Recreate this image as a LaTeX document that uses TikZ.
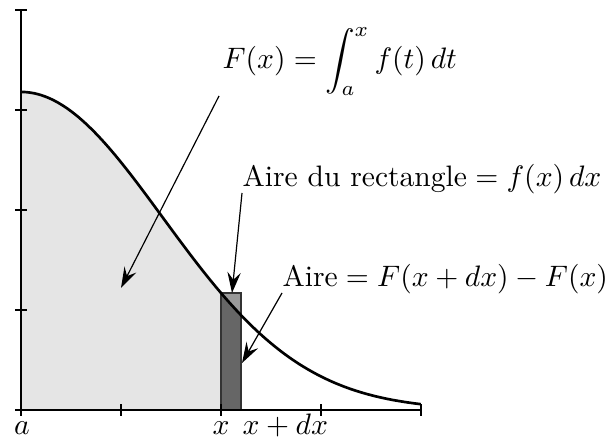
\documentclass[tikz,border=0pt]{standalone}
\usepackage{amsmath}
\usetikzlibrary{arrows.meta}
\begin{document}
\begin{tikzpicture}[x=33.8pt,y=33.8pt,
  declare function={f(\t)=3.18*exp(-(\t)^2/4);},
  axisline/.style={line width=0.5pt},
  tickmark/.style={line width=1pt},
  curveline/.style={line width=0.9pt},
  lightarea/.style={fill=black!10},
  rectfill/.style={fill=black!40},
  darkarea/.style={fill=black!60},
  rectline/.style={line width=0.4pt,draw=black!80},
  lbl/.style={inner sep=0pt},
  pointer/.style={line width=0.4pt,-{Stealth[length=7pt,width=4.5pt,inset=2.5pt]}}]
\useasboundingbox (-0.21,-0.30) rectangle (5.94,4.10);
% areas
\fill[lightarea] (0,0) -- plot[domain=0:2,samples=60] (\x,{f(\x)}) -- (2,0) -- cycle;
\fill[rectfill] (2,0) rectangle (2.2,{f(2)});
\fill[darkarea] (2,0) -- plot[domain=2:2.2,samples=10] (\x,{f(\x)}) -- (2.2,0) -- cycle;
\draw[rectline] (2,0) rectangle (2.2,{f(2)});
% axes
\coordinate (O) at (0,0);
\coordinate (xend) at (4,0);
\coordinate (yend) at (0,4);
\draw[axisline] (O) -- (xend);
\draw[axisline] (O) -- (yend);
\foreach \i in {0,...,4} {
  \draw[tickmark] (\i,-0.06) -- (\i,0.06);
  \draw[tickmark] (-0.06,\i) -- (0.06,\i);
}
% curve
\draw[curveline] plot[domain=0:4,samples=120] (\x,{f(\x)});
% axis labels
\node[lbl,anchor=base] (la) at (0.01,-0.25) {$a$};
\node[lbl,anchor=base] (lx) at (2.0,-0.25) {$x$};
\node[lbl,anchor=base west] (lxdx) at (2.21,-0.25) {$x+dx$};
% annotations
\node[lbl,anchor=base west] (Fdef) at (2.01,3.41) {$F(x) = \displaystyle\int_a^x f(t)\,dt$};
\node[lbl,anchor=base west] (rect) at (2.21,2.23) {$\text{Aire du rectangle} = f(x)\,dx$};
\node[lbl,anchor=base west] (aire) at (2.61,1.23) {$\text{Aire} = F(x+dx)-F(x)$};
% arrow ends
\coordinate (s1) at (1.98,3.14);
\coordinate (t1) at (1.0,1.22);
\coordinate (s2) at (2.21,2.17);
\coordinate (t2) at (2.11,1.17);
\coordinate (s3) at (2.61,1.17);
\coordinate (t3) at (2.21,0.47);
\draw[pointer] (s1) -- (t1);
\draw[pointer] (s2) -- (t2);
\draw[pointer] (s3) -- (t3);
\end{tikzpicture}
\end{document}
